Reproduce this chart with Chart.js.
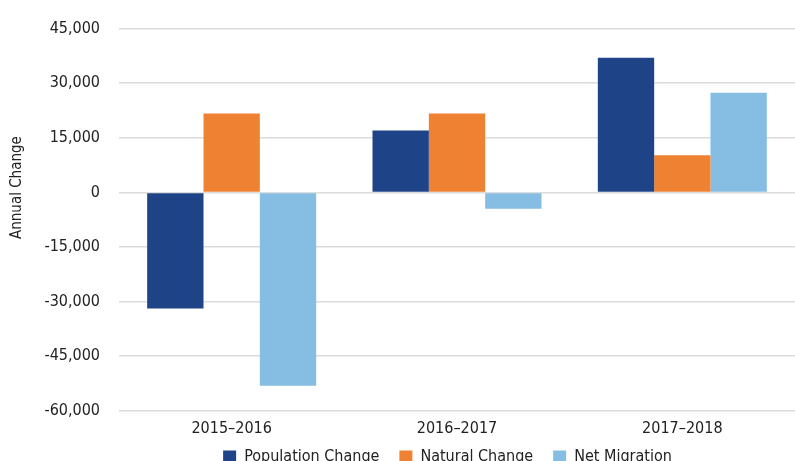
<!DOCTYPE html>
<html>
<head>
<meta charset="utf-8">
<script src="https://cdn.jsdelivr.net/npm/chart.js@4"></script>
<style>
  html, body { margin:0; padding:0; background:#fff; overflow:hidden; }
  #wrap { position:relative; width:795px; height:461px; }
</style>
</head>
<body>
<div id="wrap"><canvas id="chart"></canvas></div>
<script>
const FONT = "'Liberation Sans Narrow', 'DejaVu Sans Condensed', 'Roboto', sans-serif";

const years = ['2015\u20132016', '2016\u20132017', '2017\u20132018'];
const populationChange = [-31900, 17000, 37000];
const naturalChange = [21700, 21700, 10200];
const netMigration = [-53100, -4500, 27400];
const yTicks = [-60000, -45000, -30000, -15000, 0, 15000, 30000, 45000];

Chart.defaults.font.family = FONT;
Chart.defaults.color = '#222222';

// put the legend row under the plot, partly cut by the bottom edge like the original
const legendShift = {
  id: 'legendShift',
  beforeDraw(chart) {
    const lg = chart.legend;
    if (!lg) return;
    lg.left = 80; lg.right = 815;
    lg.top = 457 - 20 - 8;
  }
};

new Chart(document.getElementById('chart'), {
  type: 'bar',
  data: {
    labels: years,
    datasets: [
      { label: 'Population Change', data: populationChange, backgroundColor: '#1F4387' },
      { label: 'Natural Change', data: naturalChange, backgroundColor: '#EF8132' },
      { label: 'Net Migration', data: netMigration, backgroundColor: '#86BDE3' }
    ]
  },
  options: {
    responsive: true,
    maintainAspectRatio: false,
    animation: false,
    datasets: { bar: { categoryPercentage: 0.75, barPercentage: 1 } },
    layout: { padding: { top: 21, right: -6, bottom: -31, left: 0 } },
    plugins: {
      legend: {
        position: 'bottom',
        labels: { boxWidth: 13, boxHeight: 13, padding: 20, font: { size: 16 } }
      },
      tooltip: { enabled: false }
    },
    scales: {
      x: {
        grid: { display: false, drawTicks: false },
        border: { display: false },
        ticks: { padding: 8, font: { size: 16 } }
      },
      y: {
        min: -60000, max: 45000,
        afterFit: s => { s.width = 119; },
        afterBuildTicks: s => { s.ticks = yTicks.map(v => ({ value: v })); },
        grid: { color: '#dcdcdc', lineWidth: 1.5, drawTicks: false },
        border: { display: false },
        ticks: {
          padding: 19, font: { size: 16 },
          callback: v => v.toLocaleString('en-US')
        },
        title: {
          display: true,
          text: '               Annual Change',
          font: { size: 15 },
          padding: { top: 8, bottom: 0 }
        }
      }
    }
  },
  plugins: [legendShift]
});
</script>
</body>
</html>
